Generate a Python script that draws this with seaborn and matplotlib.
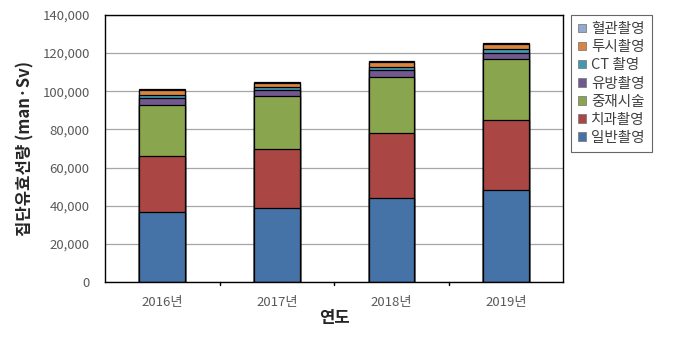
import numpy as np
import pandas as pd
import matplotlib
matplotlib.use("Agg")
import matplotlib.pyplot as plt
import seaborn as sns
from matplotlib.patches import Patch
from matplotlib.ticker import FuncFormatter

years = ["2016년", "2017년", "2018년", "2019년"]

# bottom -> top
series_names = ["일반촬영", "치과촬영", "중재시술", "유방촬영", "CT 촬영", "투시촬영", "혈관촬영"]
general = [36800, 38800, 44200, 48400]
dental = [29500, 30700, 33700, 36300]
interventional = [26300, 27900, 29500, 32100]
mammo = [3700, 3200, 3700, 3200]
ct = [1600, 1600, 1600, 2100]
fluoro = [2600, 2100, 2600, 2600]
angio = [500, 500, 600, 700]

colors = ["#4572A7", "#AA4643", "#89A54E", "#71588F", "#4198AF", "#DB843D", "#93A9CF"]

sns.set_theme(style="white")
plt.rcParams["font.family"] = ["Noto Sans CJK KR", "DejaVu Sans"]

df = pd.DataFrame({"year": years})
values = [general, dental, interventional, mammo, ct, fluoro, angio]
cum = np.cumsum(np.array(values), axis=0)

fig, ax = plt.subplots(figsize=(6.73, 3.56), dpi=100)
fig.subplots_adjust(left=0.156, right=0.837, top=0.958, bottom=0.208)

# draw cumulative totals from the top layer down so each layer sits on the one below
for i in range(len(series_names) - 1, -1, -1):
    df["v"] = cum[i]
    sns.barplot(data=df, x="year", y="v", color=colors[i], width=0.4,
                edgecolor="black", linewidth=0.9, saturation=1, ax=ax)

ax.set_ylim(0, 140000)
ax.set_yticks(np.arange(0, 140001, 20000))
ax.yaxis.set_major_formatter(FuncFormatter(lambda v, p: f"{int(v):,}"))
ax.grid(axis="y", color="#a6a6a6", linewidth=0.9)
ax.set_axisbelow(True)
for s in ax.spines.values():
    s.set_color("black")
    s.set_linewidth(1.0)
    s.set_visible(True)

ax.tick_params(axis="y", length=0, labelsize=9.5, pad=11, colors="#595959")
ax.tick_params(axis="x", length=0, labelsize=9.5, pad=10, colors="#595959")
for x in [0.5, 1.5, 2.5]:
    ax.plot([x, x], [0, -1600], color="black", lw=1, clip_on=False)
ax.set_xlim(-0.5, 3.5)
ax.set_ylim(0, 140000)

ax.set_xlabel("연도", fontsize=12, fontweight="bold", labelpad=0, color="#262626")
ax.set_ylabel("집단유효선량 (man·Sv)", fontsize=12, fontweight="bold", labelpad=6, color="#262626")

handles = [Patch(facecolor=colors[i], edgecolor="#7f7f7f", linewidth=0.6, label=series_names[i])
           for i in range(len(series_names) - 1, -1, -1)]
leg = ax.legend(handles=handles, loc="upper left", bbox_to_anchor=(571 / 673, 1 - 15 / 356),
                bbox_transform=fig.transFigure,
                frameon=True, fancybox=False, edgecolor="#404040", fontsize=10.5,
                handlelength=0.5, handleheight=0.5, handletextpad=0.4,
                labelspacing=0.28, borderpad=0.5, borderaxespad=0)
leg.get_frame().set_linewidth(0.8)
for t in leg.get_texts():
    t.set_color("#404040")

fig.savefig("out.png", dpi=100)
